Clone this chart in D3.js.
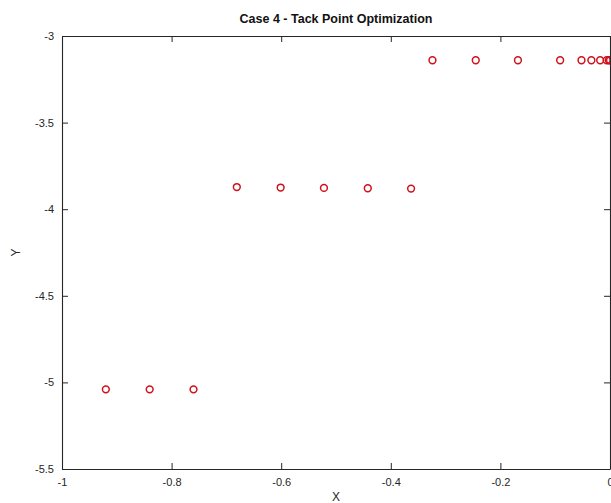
<!DOCTYPE html>
<html>
<head>
<meta charset="utf-8">
<script src="https://cdn.jsdelivr.net/npm/d3@7"></script>
<style>
  html, body { margin: 0; padding: 0; background: #fff; }
  svg { display: block; font-family: "Liberation Sans", Arial, sans-serif; }
</style>
</head>
<body>
<svg id="chart" width="611" height="503"></svg>
<script>
// Tack point positions found by the optimizer
const xValues = [
  -0.92, -0.84, -0.76,
  -0.681, -0.601, -0.522, -0.442, -0.363,
  -0.324, -0.245, -0.168, -0.091, -0.052, -0.034, -0.018, -0.006, -0.002, 0
];
const yValues = [
  -5.04, -5.04, -5.04,
  -3.872, -3.875, -3.877, -3.879, -3.881,
  -3.14, -3.14, -3.14, -3.14, -3.14, -3.14, -3.14, -3.14, -3.14, -3.14
];
const xTicks = [-1, -0.8, -0.6, -0.4, -0.2, 0];
const yTicks = [-3, -3.5, -4, -4.5, -5, -5.5];

const titleText = "Case 4 - Tack Point Optimization";
const xLabel = "X";
const yLabel = "Y";

const svg = d3.select("#chart");
const margin = { left: 62, right: 1, top: 36, bottom: 34 };
const W = 611, H = 503;
const axisColor = "#262626";

const x = d3.scaleLinear().domain([-1, 0]).range([margin.left, W - margin.right]);
const y = d3.scaleLinear().domain([-5.5, -3]).range([H - margin.bottom, margin.top]);

const fmt = d => String(d);

// bottom axis (ticks pointing inward)
const gx = svg.append("g").attr("transform", `translate(0,${y(-5.5)})`)
  .call(d3.axisBottom(x).tickValues(xTicks).tickFormat(fmt).tickSizeInner(-6).tickSizeOuter(0).tickPadding(9));
// top axis, ticks only
const gxt = svg.append("g").attr("transform", `translate(0,${y(-3)})`)
  .call(d3.axisTop(x).tickValues(xTicks).tickFormat("").tickSizeInner(-6).tickSizeOuter(0));
// left axis
const gy = svg.append("g").attr("transform", `translate(${x(-1)},0)`)
  .call(d3.axisLeft(y).tickValues(yTicks).tickFormat(fmt).tickSizeInner(-6).tickSizeOuter(0).tickPadding(8));
// right axis, ticks only
const gyr = svg.append("g").attr("transform", `translate(${x(0)},0)`)
  .call(d3.axisRight(y).tickValues(yTicks).tickFormat("").tickSizeInner(-6).tickSizeOuter(0));

[gx, gxt, gy, gyr].forEach(g => {
  g.select(".domain").attr("stroke", axisColor).attr("stroke-width", 1.1);
  g.selectAll(".tick line").attr("stroke", axisColor).attr("stroke-width", 1);
  g.selectAll(".tick text").attr("fill", axisColor).style("font-size", "11px")
    .style("font-family", "'Liberation Sans', Arial, sans-serif");
});
gx.selectAll(".tick text").attr("dy", "0.71em");

// markers, clipped to the plot box
svg.append("clipPath").attr("id", "plotClip").append("rect")
  .attr("x", x(-1)).attr("y", y(-3))
  .attr("width", x(0) - x(-1)).attr("height", y(-5.5) - y(-3));

svg.append("g").attr("clip-path", "url(#plotClip)")
  .selectAll("circle")
  .data(xValues.map((v, i) => [v, yValues[i]]))
  .join("circle")
  .attr("cx", d => x(d[0]))
  .attr("cy", d => y(d[1]))
  .attr("r", 3.4)
  .attr("fill", "none")
  .attr("stroke", "#d0101a")
  .attr("stroke-width", 1.5);

// title and axis labels
svg.append("text")
  .attr("x", (x(-1) + x(0)) / 2).attr("y", 23)
  .attr("text-anchor", "middle")
  .attr("fill", "#111")
  .style("font-size", "12.5px").style("font-weight", "bold")
  .text(titleText);

svg.append("text")
  .attr("x", (x(-1) + x(0)) / 2).attr("y", 501)
  .attr("text-anchor", "middle")
  .attr("fill", axisColor)
  .style("font-size", "12px")
  .text(xLabel);

svg.append("text")
  .attr("transform", `translate(20,${(y(-3) + y(-5.5)) / 2}) rotate(-90)`)
  .attr("text-anchor", "middle")
  .attr("fill", axisColor)
  .style("font-size", "12px")
  .text(yLabel);
</script>
</body>
</html>
